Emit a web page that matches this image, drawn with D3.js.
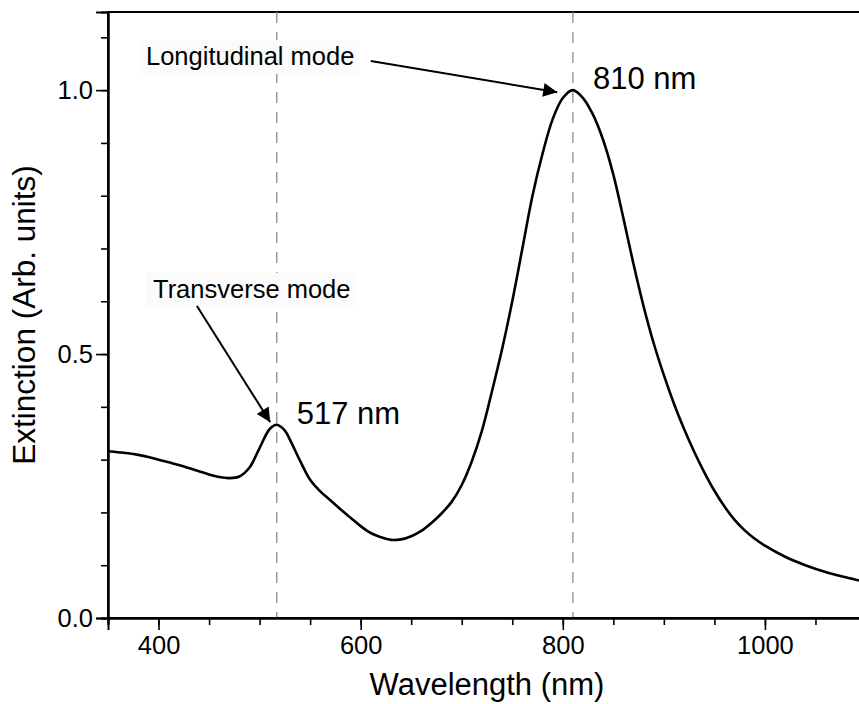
<!DOCTYPE html>
<html>
<head>
<meta charset="utf-8">
<script src="https://cdn.jsdelivr.net/npm/d3@7"></script>
<style>
  html, body { margin: 0; padding: 0; background: #fff; }
  svg { display: block; font-family: "Liberation Sans", Arial, sans-serif; }
</style>
</head>
<body>
<svg id="chart" width="859" height="704"></svg>
<script>
// Extinction spectrum of gold nanorods
const wavelength = [
  350, 360, 370, 380, 390, 400, 410, 420, 430, 440, 450, 460, 470, 480, 490,
  500, 510, 517, 525, 530, 540, 550, 560, 570, 580, 590, 600, 610, 620, 630,
  640, 650, 660, 670, 680, 690, 700, 710, 720, 730, 740, 750, 760, 770, 780,
  790, 800, 810, 820, 830, 840, 850, 860, 870, 880, 890, 900, 910, 920, 930,
  940, 950, 960, 970, 980, 990, 1000, 1020, 1040, 1060, 1080, 1100
];
const extinction = [
  0.316, 0.314, 0.312, 0.309, 0.305, 0.300, 0.295, 0.290, 0.284, 0.278, 0.272, 0.267, 0.265, 0.268, 0.285,
  0.322, 0.358, 0.366, 0.355, 0.338, 0.298, 0.262, 0.240, 0.223, 0.206, 0.190, 0.174, 0.161, 0.153, 0.148,
  0.149, 0.155, 0.165, 0.180, 0.198, 0.220, 0.252, 0.297, 0.355, 0.430, 0.510, 0.600, 0.700, 0.800, 0.880,
  0.945, 0.985, 1.000, 0.985, 0.953, 0.905, 0.840, 0.757, 0.670, 0.590, 0.520, 0.460, 0.406, 0.358, 0.315,
  0.276, 0.241, 0.211, 0.186, 0.166, 0.150, 0.137, 0.116, 0.100, 0.087, 0.077, 0.068
];

// Axis ticks
const xMajorTicks = [400, 600, 800, 1000];
const xMinorTicks = d3.range(350, 1101, 50);
const yMajorTicks = [0.0, 0.5, 1.0];
const yMinorTicks = d3.range(0, 1.15, 0.1);

// Peak markers and annotations
const peakWavelengths = [517, 810];
const peakLabels = ["517 nm", "810 nm"];
const modeNames = ["Transverse mode", "Longitudinal mode"];
const arrowTails = [[438, 0.591], [610, 1.055]];
const arrowTips = [[510.5, 0.371], [794.5, 0.996]];

const svg = d3.select("#chart");
const plot = { left: 108, right: 866, top: 12, bottom: 618 };

const x = d3.scaleLinear().domain([350, 1100]).range([plot.left, plot.right]);
const y = d3.scaleLinear().domain([0, 1.148]).range([plot.bottom, plot.top]);

// Frame
svg.append("rect")
  .attr("x", plot.left).attr("y", plot.top)
  .attr("width", plot.right - plot.left).attr("height", plot.bottom - plot.top)
  .attr("fill", "none").attr("stroke", "#000").attr("stroke-width", 2);

// Dashed guides at the peak positions
svg.selectAll("line.guide").data(peakWavelengths).join("line")
  .attr("class", "guide")
  .attr("x1", d => x(d)).attr("x2", d => x(d))
  .attr("y1", plot.top).attr("y2", plot.bottom)
  .attr("stroke", "#8c8c8c").attr("stroke-width", 1.3)
  .attr("stroke-dasharray", "11,9");

// Axes: minor ticks first, then labelled major ticks
function styleAxis(g) {
  g.select(".domain").attr("stroke-width", 2);
  g.selectAll(".tick line").attr("stroke-width", 1.6);
  g.selectAll("text").attr("fill", "#000").attr("font-size", 25.5)
    .attr("font-family", "'Liberation Sans', Arial, sans-serif");
}

svg.append("g").attr("transform", `translate(0,${plot.bottom})`)
  .call(d3.axisBottom(x).tickValues(xMinorTicks).tickSize(7).tickFormat(""))
  .call(styleAxis);
svg.append("g").attr("transform", `translate(0,${plot.bottom})`)
  .call(d3.axisBottom(x).tickValues(xMajorTicks).tickSize(12).tickPadding(6).tickFormat(d3.format("d")))
  .call(styleAxis);

svg.append("g").attr("transform", `translate(${plot.left},0)`)
  .call(d3.axisLeft(y).tickValues(yMinorTicks).tickSize(7).tickFormat(""))
  .call(styleAxis);
svg.append("g").attr("transform", `translate(${plot.left},0)`)
  .call(d3.axisLeft(y).tickValues(yMajorTicks).tickSize(12).tickPadding(3).tickFormat(d3.format(".1f")))
  .call(styleAxis);

// Spectrum
const line = d3.line()
  .x((d, i) => x(wavelength[i]))
  .y(d => y(d))
  .curve(d3.curveCatmullRom.alpha(0.5));

svg.append("path")
  .datum(extinction)
  .attr("fill", "none")
  .attr("stroke", "#000")
  .attr("stroke-width", 2.6)
  .attr("stroke-linejoin", "round")
  .attr("d", line);

// Peak value labels
const peakValues = peakWavelengths.map(w => extinction[wavelength.indexOf(w)]);
svg.selectAll("text.peak").data(peakLabels).join("text")
  .attr("class", "peak")
  .attr("x", (d, i) => x(peakWavelengths[i]) + 20)
  .attr("y", (d, i) => y(peakValues[i]) - 1)
  .attr("font-size", 31)
  .attr("fill", "#000")
  .text(d => d);

// Mode annotations with a pale label box and an arrow
const defs = svg.append("defs");
defs.append("marker")
  .attr("id", "head")
  .attr("viewBox", "0 0 10 10")
  .attr("refX", 10).attr("refY", 5)
  .attr("markerUnits", "userSpaceOnUse")
  .attr("markerWidth", 19).attr("markerHeight", 14)
  .attr("orient", "auto")
  .append("path").attr("d", "M0,0 L10,5 L0,10 Z").attr("fill", "#000");

const labelAnchors = [[153, 298], [146, 65]];
modeNames.forEach((name, i) => {
  const t = svg.append("text")
    .attr("x", labelAnchors[i][0]).attr("y", labelAnchors[i][1])
    .attr("font-size", 25.5).attr("fill", "#000")
    .text(name);
  const bb = t.node().getBBox();
  svg.insert("rect", () => t.node())
    .attr("x", bb.x - 7).attr("y", bb.y - 2)
    .attr("width", bb.width + 12).attr("height", bb.height + 6)
    .attr("fill", "#fbfbfb");
  svg.append("line")
    .attr("x1", x(arrowTails[i][0])).attr("y1", y(arrowTails[i][1]))
    .attr("x2", x(arrowTips[i][0])).attr("y2", y(arrowTips[i][1]))
    .attr("stroke", "#000").attr("stroke-width", 2)
    .attr("marker-end", "url(#head)");
});

// Axis titles
svg.append("text")
  .attr("x", (plot.left + plot.right) / 2).attr("y", 695)
  .attr("text-anchor", "middle").attr("font-size", 31).attr("fill", "#000")
  .text("Wavelength (nm)");
svg.append("text")
  .attr("transform", `translate(35,315) rotate(-90)`)
  .attr("text-anchor", "middle").attr("font-size", 31.5).attr("fill", "#000")
  .text("Extinction (Arb. units)");
</script>
</body>
</html>
